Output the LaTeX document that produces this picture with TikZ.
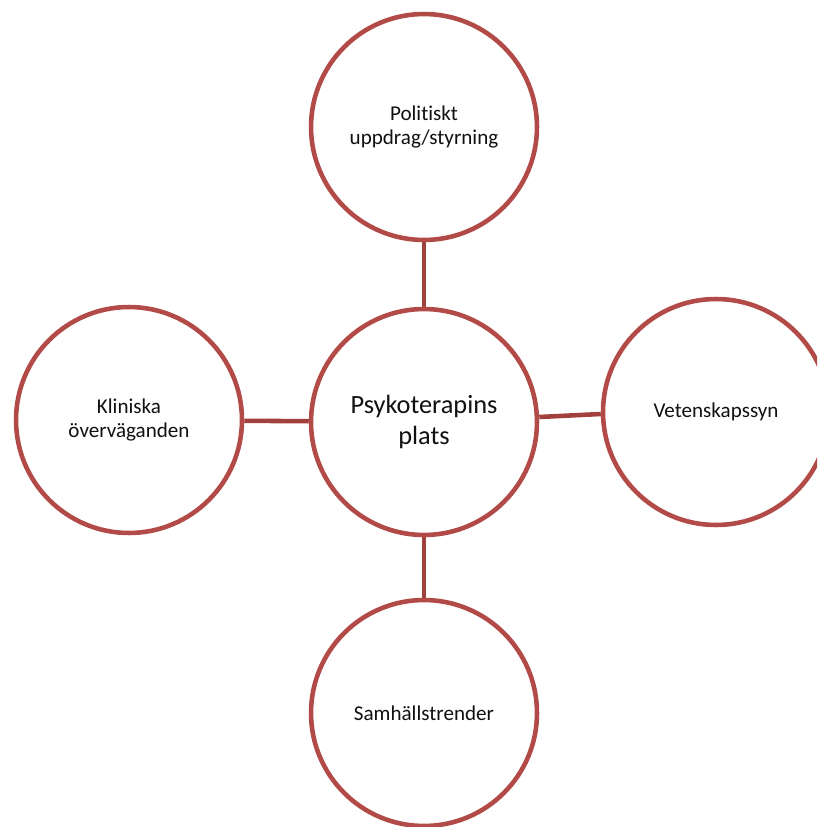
\documentclass[tikz,border=0pt]{standalone}
\usepackage{fontspec}
\setmainfont{Carlito}[Ligatures=NoCommon]
\usepackage{tikz}
\usetikzlibrary{positioning,calc}
\definecolor{ring}   {HTML}{B24A47}
\definecolor{spoke}  {HTML}{A2403D}
\definecolor{ink}    {HTML}{111111}
\tikzset{
  % --- nodes
  topic/.style = {circle, draw=ring, line width=2.6pt, fill=white,
                  minimum size=4.52cm, inner sep=0pt, align=center,
                  font=\fontsize{12}{14.2}\selectfont, text=ink},
  hub/.style   = {topic, font=\fontsize{15}{17.5}\selectfont},
  % --- edges
  link/.style  = {draw=spoke, line width=2.6pt},
}
\begin{document}
\begin{tikzpicture}[x=0.02cm,y=-0.02cm]
  \useasboundingbox (0,0) rectangle (817,827);
  \clip (0,0) rectangle (817,827);

  \node[hub]   (hub)   at (424,422) {Psykoterapins\\plats};
  \node[topic] (pol)   at (424,127) {Politiskt\\uppdrag/styrning};
  \node[topic] (klin)  at (129,420) {Kliniska\\överväganden};
  \node[topic] (vet)   at (716,412) {Vetenskapssyn};
  \node[topic] (samh)  at (424,713) {Samhällstrender};

  \draw[link] (pol)--(hub); \draw[link] (hub)--(samh);
  \draw[link] (klin)--(hub);
  \draw[link] ([yshift=0.1cm]hub.east) -- ([yshift=-0.04cm]vet.west);
\end{tikzpicture}
\end{document}
